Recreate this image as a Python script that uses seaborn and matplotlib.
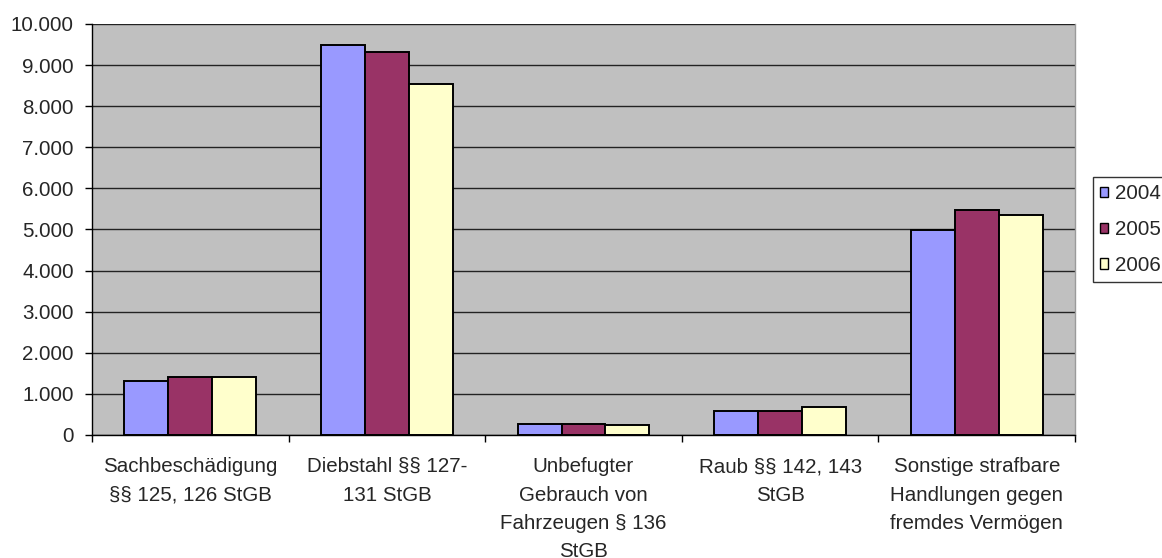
import numpy as np
import pandas as pd
import matplotlib
matplotlib.use("Agg")
import matplotlib.pyplot as plt
from matplotlib.ticker import FuncFormatter, FixedLocator
from matplotlib.patches import Patch
import seaborn as sns

# Offence categories (x axis) and yearly case counts
categories = [
    "Sachbeschädigung\n§§ 125, 126 StGB",
    "Diebstahl §§ 127-\n131 StGB",
    "Unbefugter\nGebrauch von\nFahrzeugen § 136\nStGB",
    "Raub §§ 142, 143\nStGB",
    "Sonstige strafbare\nHandlungen gegen\nfremdes Vermögen",
]
years = ["2004", "2005", "2006"]
values_2004 = [1320, 9480, 275, 590, 4995]
values_2005 = [1420, 9310, 275, 590, 5475]
values_2006 = [1420, 8550, 235, 690, 5360]
y_ticks = [0, 1000, 2000, 3000, 4000, 5000, 6000, 7000, 8000, 9000, 10000]

colors = ["#9999FF", "#993366", "#FFFFCC"]

df = pd.DataFrame({
    "cat": categories * 3,
    "year": [y for y in years for _ in categories],
    "val": values_2004 + values_2005 + values_2006,
})

FS = 14.8

sns.set_style("white")
plt.rcParams["font.family"] = ["Liberation Sans", "DejaVu Sans"]
plt.rcParams["font.size"] = FS

fig = plt.figure(figsize=(11.62, 5.58), dpi=100)
ax = fig.add_axes([92 / 1162, 1 - 435 / 558, (1075 - 92) / 1162, (435 - 24) / 558])
ax.set_facecolor("#C0C0C0")

sns.barplot(data=df, x="cat", y="val", hue="year", order=categories,
            hue_order=years, palette=colors, saturation=1, width=0.67,
            edgecolor="black", linewidth=1.4, legend=False, ax=ax)

ax.set_xlim(-0.5, len(categories) - 0.5)
ax.set_ylim(0, 10000)
ax.set_xlabel("")
ax.set_ylabel("")

# y axis: thousands with dot separator
ax.set_yticks(y_ticks)
ax.yaxis.set_major_formatter(FuncFormatter(lambda v, p: f"{int(v):,}".replace(",", ".")))
ax.tick_params(axis="y", which="major", direction="out", length=5, width=1,
               color="black", pad=8, labelsize=FS, left=True)

# x axis: labels centred, tick marks on category boundaries
ax.set_xticks(range(len(categories)))
ax.set_xticklabels(categories, linespacing=1.62, fontsize=FS)
ax.tick_params(axis="x", which="major", length=0, pad=16)
ax.xaxis.set_minor_locator(FixedLocator(np.arange(-0.5, len(categories), 1.0)))
ax.tick_params(axis="x", which="minor", direction="out", length=5, width=1,
               color="black", bottom=True)

ax.yaxis.grid(True, color="#222222", linewidth=1)
ax.xaxis.grid(False)
ax.set_axisbelow(True)

for side in ["left", "bottom"]:
    ax.spines[side].set_color("black")
    ax.spines[side].set_linewidth(1)
ax.spines["top"].set_visible(False)
ax.spines["right"].set_color("#9a9a9a")
ax.spines["right"].set_linewidth(1)

handles = [Patch(facecolor=c, edgecolor="black", linewidth=1) for c in colors]
leg = fig.legend(handles, years, loc="upper left",
                 bbox_to_anchor=(1093 / 1162, 1 - 177 / 558),
                 borderaxespad=0, frameon=True, fancybox=False,
                 edgecolor="black", fontsize=FS, handlelength=0.4,
                 handleheight=0.4, handletextpad=0.3, labelspacing=0.82,
                 borderpad=0.35)
leg.get_frame().set_linewidth(1)

fig.savefig("out.png", dpi=100, facecolor="white")
